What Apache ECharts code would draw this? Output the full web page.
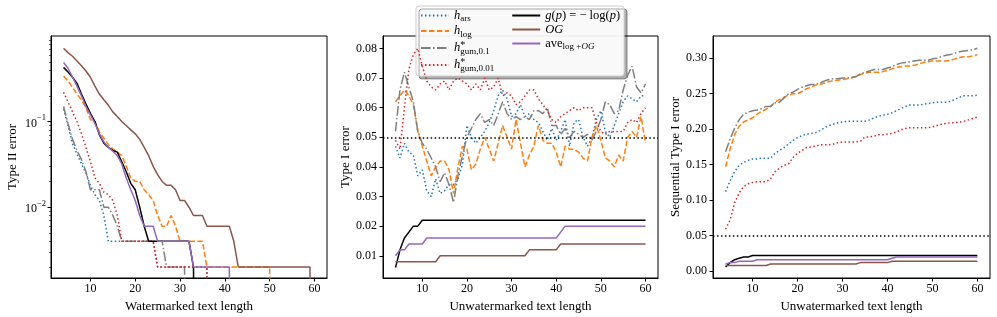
<!DOCTYPE html>
<html><head><meta charset="utf-8">
<script src="https://cdn.jsdelivr.net/npm/echarts@6/dist/echarts.min.js"></script>
<style>html,body{margin:0;padding:0;background:#fff}#c{width:997px;height:317px}</style>
</head><body><div id="c"></div>
<script>
// ---------------- DATA ----------------
const textLength = [4,5,6,7,8,9,10,11,12,13,14,15,16,17,18,19,20,21,22,23,24,25,26,27,28,29,30,31,32,33,34,35,36,37,38,39,40,41,42,43,44,45,46,47,48,49,50,51,52,53,54,55,56,57,58,59,60];
const xTickValues = [10,20,30,40,50,60];

// Left panel: Type II error (watermarked text), log scale
const type2_ars = [0.14,0.09,0.055,0.042,0.032,0.025,0.018,0.014,0.012,0.008,
  0.004,0.004,0.004,0.004,0.004,0.004,0.004,0.004,0.004,0.004,
  0.004,0.002,0.002,0.002,0.002,0.002,0.002,0.002,0.002,0.002,
  0.002,0.002,0.002,0,0,0,0,0,0,0,
  0,0,0,0,0,0,0,0,0,0,
  0,0,0,0,0,0,0];
const type2_log = [0.34,0.30,0.25,0.21,0.18,0.145,0.105,0.10,0.076,0.064,
  0.054,0.048,0.044,0.040,0.030,0.022,0.020,0.020,0.016,0.014,
  0.012,0.008,0.006,0.006,0.008,0.006,0.004,0.004,0.004,0.004,
  0.004,0.004,0.002,0.002,0.002,0.002,0.002,0.002,0.002,0.002,
  0.002,0.002,0.002,0.002,0.002,0.002,0.002,0,0,0,
  0,0,0,0,0,0,0];
const type2_gum01 = [0.15,0.095,0.062,0.046,0.036,0.026,0.016,0.016,0.016,0.010,
  0.010,0.008,0.006,0.004,0.004,0.004,0.004,0.004,0.004,0.004,
  0.004,0.004,0.004,0.002,0.002,0.002,0.002,0.002,0,0,
  0,0,0,0,0,0,0,0,0,0,
  0,0,0,0,0,0,0,0,0,0,
  0,0,0,0,0,0,0];
const type2_gum001 = [0.22,0.17,0.13,0.10,0.072,0.050,0.034,0.022,0.019,0.015,
  0.014,0.012,0.008,0.004,0.004,0.004,0.004,0.004,0.004,0.004,
  0.004,0.002,0.002,0.002,0.002,0.002,0.002,0.002,0.002,0.002,
  0.002,0.002,0.002,0,0,0,0,0,0,0,
  0,0,0,0,0,0,0,0,0,0,
  0,0,0,0,0,0,0];
const type2_g = [0.43,0.38,0.33,0.28,0.21,0.16,0.125,0.10,0.07,0.056,
  0.050,0.046,0.044,0.034,0.026,0.019,0.016,0.010,0.006,0.004,
  0.004,0.004,0.004,0.004,0.004,0.004,0.004,0.004,0.004,0.002,
  0,0,0,0,0,0,0,0,0,0,
  0,0,0,0,0,0,0,0,0,0,
  0,0,0,0,0,0,0];
const type2_og = [0.72,0.64,0.58,0.51,0.45,0.39,0.33,0.26,0.21,0.18,
  0.155,0.13,0.115,0.10,0.09,0.08,0.072,0.062,0.050,0.040,
  0.030,0.024,0.020,0.018,0.018,0.016,0.012,0.012,0.010,0.008,
  0.008,0.008,0.006,0.006,0.006,0.006,0.006,0.006,0.004,0.002,
  0.002,0.002,0.002,0.002,0.002,0.002,0.002,0.002,0.002,0.002,
  0.002,0.002,0.002,0.002,0.002,0.002,0];
const type2_ave = [0.49,0.42,0.33,0.26,0.20,0.15,0.12,0.095,0.072,0.058,
  0.050,0.045,0.040,0.032,0.022,0.016,0.012,0.008,0.006,0.006,
  0.006,0.004,0.004,0.004,0.004,0.004,0.004,0.004,0.004,0.002,
  0.002,0.002,0.002,0.002,0.002,0.002,0.002,0.002,0,0,
  0,0,0,0,0,0,0,0,0,0,
  0,0,0,0,0,0,0];

// Middle panel: Type I error (unwatermarked text)
const type1_ars = [0.047,0.043,0.048,0.045,0.044,0.037,0.039,0.032,0.030,0.036,
  0.031,0.032,0.034,0.034,0.036,0.041,0.054,0.050,0.048,0.050,
  0.052,0.055,0.059,0.064,0.066,0.063,0.057,0.058,0.061,0.057,
  0.058,0.056,0.055,0.052,0.049,0.053,0.049,0.052,0.056,0.047,
  0.055,0.056,0.050,0.047,0.050,0.056,0.059,0.052,0.050,0.054,
  0.058,0.062,0.064,0.063,0.062,0.064,0.064];
const type1_log = [0.062,0.064,0.066,0.064,0.061,0.052,0.047,0.042,0.037,0.040,
  0.042,0.042,0.039,0.031,0.040,0.047,0.046,0.039,0.041,0.046,
  0.050,0.046,0.042,0.048,0.054,0.050,0.046,0.056,0.048,0.040,
  0.044,0.047,0.054,0.049,0.048,0.048,0.045,0.040,0.047,0.046,
  0.046,0.045,0.043,0.042,0.050,0.054,0.049,0.043,0.042,0.040,
  0.044,0.042,0.050,0.052,0.050,0.057,0.048];
const type1_gum01 = [0.052,0.066,0.072,0.067,0.062,0.052,0.048,0.046,0.043,0.040,
  0.035,0.038,0.034,0.028,0.037,0.044,0.050,0.053,0.056,0.058,
  0.055,0.056,0.054,0.058,0.062,0.058,0.056,0.057,0.056,0.057,
  0.056,0.059,0.059,0.058,0.060,0.054,0.054,0.051,0.053,0.050,
  0.052,0.051,0.050,0.051,0.049,0.052,0.056,0.062,0.061,0.058,
  0.059,0.066,0.071,0.074,0.067,0.065,0.068];
const type1_gum001 = [0.049,0.046,0.060,0.073,0.078,0.080,0.074,0.069,0.067,0.066,
  0.068,0.069,0.066,0.069,0.070,0.069,0.068,0.066,0.068,0.066,
  0.070,0.066,0.067,0.070,0.064,0.065,0.064,0.061,0.062,0.064,
  0.066,0.066,0.063,0.061,0.059,0.056,0.055,0.057,0.058,0.059,
  0.060,0.059,0.060,0.060,0.060,0.055,0.052,0.051,0.052,0.052,
  0.052,0.052,0.055,0.056,0.055,0.058,0.060];
const type1_g = [0.006,0.012,0.016,0.018,0.020,0.020,0.022,0.022,0.022,0.022,
  0.022,0.022,0.022,0.022,0.022,0.022,0.022,0.022,0.022,0.022,
  0.022,0.022,0.022,0.022,0.022,0.022,0.022,0.022,0.022,0.022,
  0.022,0.022,0.022,0.022,0.022,0.022,0.022,0.022,0.022,0.022,
  0.022,0.022,0.022,0.022,0.022,0.022,0.022,0.022,0.022,0.022,
  0.022,0.022,0.022,0.022,0.022,0.022,0.022];
const type1_og = [0.008,0.008,0.008,0.008,0.008,0.008,0.008,0.008,0.008,0.008,
  0.010,0.010,0.010,0.010,0.010,0.010,0.010,0.010,0.010,0.010,
  0.010,0.010,0.010,0.010,0.010,0.010,0.010,0.010,0.010,0.010,
  0.012,0.012,0.012,0.012,0.012,0.012,0.012,0.014,0.014,0.014,
  0.014,0.014,0.014,0.014,0.014,0.014,0.014,0.014,0.014,0.014,
  0.014,0.014,0.014,0.014,0.014,0.014,0.014];
const type1_ave = [0.010,0.012,0.012,0.014,0.014,0.014,0.014,0.016,0.016,0.016,
  0.016,0.016,0.016,0.016,0.016,0.016,0.016,0.016,0.016,0.016,
  0.016,0.016,0.016,0.016,0.016,0.016,0.016,0.016,0.016,0.016,
  0.016,0.016,0.016,0.016,0.016,0.016,0.016,0.018,0.020,0.020,
  0.020,0.020,0.020,0.020,0.020,0.020,0.020,0.020,0.020,0.020,
  0.020,0.020,0.020,0.020,0.020,0.020,0.020];

// Right panel: Sequential Type I error
const seq_ars = [0.112,0.127,0.140,0.149,0.153,0.156,0.158,0.158,0.159,0.159,
  0.159,0.166,0.170,0.174,0.179,0.184,0.188,0.191,0.193,0.194,
  0.195,0.198,0.202,0.205,0.207,0.209,0.210,0.211,0.211,0.211,
  0.211,0.211,0.213,0.216,0.218,0.220,0.221,0.223,0.226,0.229,
  0.232,0.234,0.234,0.234,0.235,0.236,0.237,0.238,0.238,0.238,
  0.239,0.242,0.245,0.247,0.247,0.247,0.248];
const seq_log = [0.147,0.172,0.192,0.204,0.210,0.213,0.216,0.221,0.225,0.228,
  0.232,0.238,0.242,0.245,0.248,0.250,0.250,0.253,0.257,0.259,
  0.262,0.263,0.265,0.267,0.268,0.269,0.270,0.271,0.272,0.274,
  0.277,0.279,0.280,0.280,0.280,0.281,0.283,0.285,0.287,0.288,
  0.289,0.289,0.290,0.292,0.294,0.295,0.296,0.296,0.296,0.296,
  0.297,0.299,0.301,0.302,0.302,0.303,0.305];
const seq_gum01 = [0.168,0.186,0.201,0.213,0.221,0.224,0.226,0.227,0.229,0.232,
  0.232,0.237,0.238,0.244,0.250,0.252,0.256,0.259,0.261,0.263,
  0.263,0.265,0.268,0.270,0.271,0.271,0.272,0.272,0.273,0.274,
  0.278,0.280,0.282,0.284,0.284,0.284,0.286,0.288,0.291,0.293,
  0.294,0.295,0.296,0.297,0.297,0.297,0.299,0.300,0.302,0.304,
  0.305,0.307,0.309,0.310,0.311,0.312,0.314];
const seq_gum001 = [0.059,0.072,0.096,0.110,0.119,0.123,0.125,0.126,0.126,0.126,
  0.130,0.140,0.145,0.149,0.151,0.160,0.166,0.170,0.174,0.175,
  0.176,0.178,0.178,0.178,0.179,0.181,0.182,0.182,0.182,0.182,
  0.183,0.189,0.189,0.190,0.192,0.192,0.193,0.194,0.196,0.199,
  0.201,0.202,0.202,0.202,0.202,0.202,0.203,0.205,0.207,0.208,
  0.209,0.209,0.210,0.211,0.213,0.215,0.217];
const seq_g = type1_g;
const seq_og = type1_og;
const seq_ave = type1_ave;

const alphaLevel = 0.05;
const leftYTicks = [0.01, 0.1];
const leftYMinorTicks = [0.002,0.003,0.004,0.005,0.006,0.007,0.008,0.009,0.02,0.03,0.04,0.05,0.06,0.07,0.08,0.09,0.2,0.3,0.4,0.5,0.6,0.7,0.8,0.9];
const midYTicks = [0.01,0.02,0.03,0.04,0.05,0.06,0.07,0.08];
const rightYTicks = [0,0.05,0.10,0.15,0.20,0.25,0.30];

// ---------------- STYLE ----------------
const FONT = 'Liberation Serif';
const DOT = [1.5, 2.475], DASH = [5.55, 2.4], DASHDOT = [9.6, 2.4, 1.5, 2.4];
const defs = [
  {key:'ars',  name:'h_ars',  color:'#1f77b4', dash:DOT},
  {key:'log',  name:'h_log',  color:'#ff7f0e', dash:DASH},
  {key:'g01',  name:'h_gum01',color:'#7f7f7f', dash:DASHDOT},
  {key:'g001', name:'h_gum001',color:'#d62728', dash:DOT},
  {key:'g',    name:'g',      color:'#000000', dash:'solid'},
  {key:'og',   name:'OG',     color:'#8c564b', dash:'solid'},
  {key:'ave',  name:'ave',    color:'#9467bd', dash:'solid'}
];
const panelData = [
  {ars:type2_ars, log:type2_log, g01:type2_gum01, g001:type2_gum001, g:type2_g, og:type2_og, ave:type2_ave},
  {ars:type1_ars, log:type1_log, g01:type1_gum01, g001:type1_gum001, g:type1_g, og:type1_og, ave:type1_ave},
  {ars:seq_ars, log:seq_log, g01:seq_gum01, g001:seq_gum001, g:seq_g, og:seq_og, ave:seq_ave}
];
const yAxisOf = [0, 2, 3];

const series = [];
panelData.forEach((pd, p) => {
  defs.forEach((d, k) => {
    const s = {
      type:'line', name:d.name, xAxisIndex:p, yAxisIndex:yAxisOf[p],
      data: textLength.map((x, i) => {
        let v = pd[d.key][i];
        if (p === 0 && v <= 0) v = 1e-9; // log-scale clipping of zeros
        return [x, v];
      }),
      symbol:'none', showSymbol:false, clip:true, animation:false,
      lineStyle:{color:d.color, width:1.5, type:d.dash},
      itemStyle:{color:d.color},
      emphasis:{disabled:true}, z: 2 + k
    };
    if (p > 0 && d.key === 'g') {
      s.markLine = {silent:true, symbol:'none', label:{show:false}, animation:false,
        lineStyle:{color:'#000', width:1.5, type:DOT}, data:[{yAxis:alphaLevel}]};
    }
    series.push(s);
  });
});

const axisLineStyle = {color:'#000', width:1};
const tickLabel = {color:'#000', fontFamily:FONT, fontSize:12};
const nameStyle = {color:'#000', fontFamily:FONT, fontSize:13};

function xAxis(gi, name) {
  return {type:'value', gridIndex:gi, min:1.2, max:62.8,
    axisLine:{show:true, onZero:false, lineStyle:axisLineStyle},
    axisTick:{show:true, length:3.5, lineStyle:axisLineStyle, customValues:xTickValues},
    axisLabel:Object.assign({margin:5, customValues:xTickValues}, tickLabel),
    splitLine:{show:false},
    name:name, nameLocation:'middle', nameGap:19, nameTextStyle:nameStyle};
}
const grids = [
  {left:51, top:36, width:276, height:242},
  {left:383, top:36, width:275, height:242},
  {left:713, top:36, width:277, height:242}
].map(g => Object.assign(g, {show:true, borderColor:'#000', borderWidth:1, backgroundColor:'transparent', containLabel:false, outerBoundsMode:'none'}));

const legendLabels = {
  h_ars: '{i|h}{s|ars}',
  h_log: '{i|h}{s|log}',
  h_gum01: '{i|h}{p|*}{s|gum,0.1}',
  h_gum001: '{i|h}{p|*}{s|gum,0.01}{w|}',
  g: '{i|g}{n|(}{i|p}{n|) = − log(}{i|p}{n|)}',
  OG: '{i|OG}',
  ave: '{n|ave}{s|log +}{si|OG}'
};

const option = {
  animation:false,
  backgroundColor:'#fff',
  grid: grids,
  xAxis: [xAxis(0,'Watermarked text length'), xAxis(1,'Unwatermarked text length'), xAxis(2,'Unwatermarked text length')],
  yAxis: [
    {type:'log', logBase:10, gridIndex:0, min:0.00149, max:1.0, position:'left',
      axisLine:{show:true, onZero:false, lineStyle:axisLineStyle},
      axisTick:{show:true, length:3.5, lineStyle:axisLineStyle, customValues:leftYTicks},
      axisLabel:Object.assign({margin:5, customValues:leftYTicks,
        formatter: v => (v > 0.05 ? '{b|10}{s|−1}' : '{b|10}{s|−2}'),
        rich:{b:{fontFamily:FONT, fontSize:12, lineHeight:16, verticalAlign:'bottom'},
              s:{fontFamily:FONT, fontSize:8.5, lineHeight:16, verticalAlign:'top'}}}, tickLabel),
      splitLine:{show:false},
      name:'Type II error', nameLocation:'middle', nameGap:32, nameTextStyle:nameStyle},
    {type:'log', logBase:10, gridIndex:0, min:0.00149, max:1.0, position:'left', offset:0,
      axisLine:{show:false}, axisLabel:{show:false}, splitLine:{show:false},
      axisTick:{show:true, length:2, lineStyle:{color:'#000', width:0.6}, customValues:leftYMinorTicks}},
    {type:'value', gridIndex:1, min:0.0025, max:0.0842, position:'left',
      axisLine:{show:true, onZero:false, lineStyle:axisLineStyle},
      axisTick:{show:true, length:3.5, lineStyle:axisLineStyle, customValues:midYTicks},
      axisLabel:Object.assign({margin:6, customValues:midYTicks, formatter: v => v.toFixed(2)}, tickLabel),
      splitLine:{show:false},
      name:'Type I error', nameLocation:'middle', nameGap:31, nameTextStyle:nameStyle},
    {type:'value', gridIndex:2, min:-0.0097, max:0.3312, position:'left',
      axisLine:{show:true, onZero:false, lineStyle:axisLineStyle},
      axisTick:{show:true, length:3.5, lineStyle:axisLineStyle, customValues:rightYTicks},
      axisLabel:Object.assign({margin:6, customValues:rightYTicks, formatter: v => v.toFixed(2)}, tickLabel),
      splitLine:{show:false},
      name:'Sequential Type I error', nameLocation:'middle', nameGap:29, nameTextStyle:nameStyle}
  ],
  legend: {
    orient:'vertical', left:416, top:6, height:68,
    padding:[3, 4, 3, 4], itemGap:1, itemWidth:28, itemHeight:14,
    backgroundColor:'rgba(255,255,255,0.92)', borderColor:'#cccccc', borderWidth:1, borderRadius:3,
    shadowColor:'rgba(0,0,0,0.35)', shadowOffsetX:3, shadowOffsetY:3, shadowBlur:0,
    itemStyle:{color:'rgba(0,0,0,0)', borderColor:'rgba(0,0,0,0)', borderWidth:0, opacity:0},
    data: ['h_ars','h_log','h_gum01','h_gum001','g','OG','ave'],
    selectedMode:false,
    formatter: n => legendLabels[n],
    textStyle:{fontFamily:FONT, fontSize:12.5, color:'#000',
      rich:{
        n:{fontFamily:FONT, fontSize:12.5, lineHeight:16, color:'#000'},
        i:{fontFamily:FONT, fontSize:12.5, fontStyle:'italic', lineHeight:16, color:'#000'},
        s:{fontFamily:FONT, fontSize:9, lineHeight:10, verticalAlign:'bottom', color:'#000'},
        si:{fontFamily:FONT, fontSize:9, fontStyle:'italic', lineHeight:10, verticalAlign:'bottom', color:'#000'},
        p:{fontFamily:FONT, fontSize:10, lineHeight:10, verticalAlign:'top', width:0, color:'#000'},
        w:{width:16, lineHeight:10}
      }}
  },
  series: series
};
const chart = echarts.init(document.getElementById('c'), null, {renderer:'canvas'});
chart.setOption(option);
</script>
</body></html>
